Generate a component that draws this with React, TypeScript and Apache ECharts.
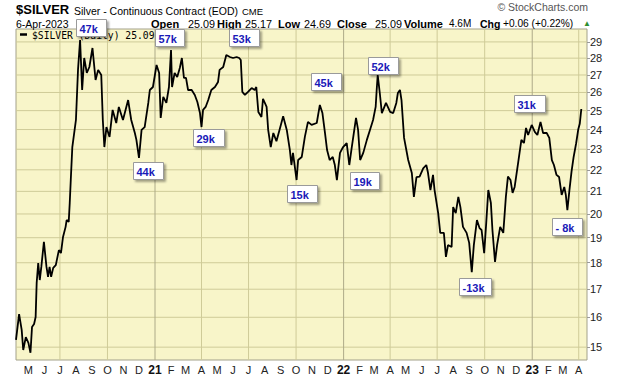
import React, { useEffect, useRef } from 'react';
import * as echarts from 'echarts';

const dates: string[] = [
  '2020-04-07','2020-04-13','2020-04-18','2020-04-21','2020-04-26','2020-05-01','2020-05-05','2020-05-08','2020-05-12','2020-05-15',
  '2020-05-17','2020-05-20','2020-05-23','2020-05-26','2020-05-31','2020-06-05','2020-06-08','2020-06-11','2020-06-14','2020-06-18',
  '2020-06-23','2020-06-29','2020-07-03','2020-07-07','2020-07-12','2020-07-14','2020-07-18','2020-07-20','2020-07-22','2020-07-25',
  '2020-08-01','2020-08-05','2020-08-09','2020-08-13','2020-08-17','2020-08-22','2020-08-27','2020-09-02','2020-09-08','2020-09-13',
  '2020-09-19','2020-09-22','2020-09-25','2020-09-29','2020-10-05','2020-10-11','2020-10-18','2020-10-23','2020-10-31','2020-11-10',
  '2020-11-16','2020-11-23','2020-11-26','2020-12-01','2020-12-06','2020-12-12','2020-12-19','2020-12-22','2020-12-28',
  '2021-01-04','2021-01-09','2021-01-12','2021-01-17','2021-01-23','2021-01-28','2021-02-01','2021-02-03','2021-02-08','2021-02-13',
  '2021-02-18','2021-02-22','2021-02-26','2021-03-02','2021-03-06','2021-03-13','2021-03-19','2021-03-24','2021-03-29','2021-04-01',
  '2021-04-04','2021-04-09','2021-04-14','2021-04-20','2021-04-27','2021-05-03','2021-05-06','2021-05-13','2021-05-19','2021-05-26',
  '2021-06-01','2021-06-08','2021-06-13','2021-06-16','2021-06-19','2021-06-24','2021-06-30','2021-07-07','2021-07-13','2021-07-16',
  '2021-07-20','2021-07-26','2021-07-29','2021-08-05','2021-08-08','2021-08-13','2021-08-18','2021-08-24','2021-08-31','2021-09-06',
  '2021-09-13','2021-09-19','2021-09-22','2021-09-25','2021-10-02','2021-10-05','2021-10-12','2021-10-18','2021-10-24','2021-10-31',
  '2021-11-10','2021-11-16','2021-11-21','2021-11-26','2021-11-30','2021-12-05','2021-12-11','2021-12-15','2021-12-19','2021-12-25',
  '2021-12-31',
  '2022-01-07','2022-01-12','2022-01-16','2022-01-25','2022-01-29','2022-02-02','2022-02-08','2022-02-15','2022-02-21','2022-02-27',
  '2022-03-04','2022-03-06','2022-03-08','2022-03-12','2022-03-16','2022-03-24','2022-04-01','2022-04-07','2022-04-13','2022-04-16',
  '2022-04-20','2022-04-23','2022-04-28','2022-05-06','2022-05-13','2022-05-17','2022-05-22','2022-05-28','2022-06-04','2022-06-10',
  '2022-06-13','2022-06-18','2022-06-23','2022-06-26','2022-07-03','2022-07-07','2022-07-14','2022-07-18','2022-07-22','2022-07-29',
  '2022-08-01','2022-08-06','2022-08-11','2022-08-15','2022-08-20','2022-08-27','2022-09-01','2022-09-06','2022-09-10','2022-09-16',
  '2022-09-21','2022-09-25','2022-09-30','2022-10-04','2022-10-08','2022-10-13','2022-10-16','2022-10-21','2022-10-25','2022-10-31',
  '2022-11-06','2022-11-11','2022-11-15','2022-11-20','2022-11-24','2022-11-28','2022-12-05','2022-12-11','2022-12-16','2022-12-20',
  '2022-12-24','2022-12-31',
  '2023-01-06','2023-01-11','2023-01-17','2023-01-22','2023-01-29','2023-02-03','2023-02-08','2023-02-12','2023-02-17','2023-02-22',
  '2023-02-27','2023-03-04','2023-03-07','2023-03-10','2023-03-14','2023-03-18','2023-03-22','2023-03-27','2023-03-31','2023-04-03',
  '2023-04-06'
];
const closes: number[] = [
  15.24,16.11,15.57,14.91,15.33,15.14,14.82,15.67,15.77,16.01,
  17.23,17.99,17.34,17.84,18.83,17.84,17.46,17.84,17.46,17.80,
  17.91,18.50,18.38,19.03,19.45,19.74,19.66,20.48,21.52,23.11,
  24.50,27.30,29.12,26.14,28.01,27.12,27.47,28.62,26.71,27.30,
  27.00,24.50,23.11,24.13,23.62,25.04,24.34,25.20,24.50,25.58,
  24.50,23.82,23.47,22.57,23.98,24.13,25.42,26.14,26.31,
  27.59,27.12,24.61,25.75,25.42,26.31,28.50,26.31,27.12,26.89,
  27.41,28.01,26.83,26.83,26.14,26.14,25.86,25.47,24.87,24.13,
  25.04,25.20,25.58,26.14,26.31,26.60,27.30,27.47,28.19,28.07,
  28.01,28.07,28.01,27.89,26.03,25.86,26.03,26.25,26.14,26.31,
  24.93,24.66,25.65,25.20,23.98,23.11,23.82,23.40,24.08,24.70,
  23.98,22.96,22.23,22.82,21.52,22.47,22.62,23.62,24.40,24.24,
  24.34,25.31,24.87,23.82,22.96,22.47,22.62,22.23,21.52,22.82,
  23.11,
  23.31,22.23,22.96,24.61,23.98,22.47,22.82,23.47,23.98,24.50,
  25.20,26.14,27.00,25.97,24.87,25.42,24.93,24.87,25.42,25.97,
  26.14,25.58,23.57,22.47,21.85,20.75,21.66,21.68,22.07,22.23,
  21.90,21.06,21.76,21.06,20.04,19.20,19.20,18.23,18.70,18.62,
  20.30,20.04,20.75,20.30,19.45,19.20,18.79,17.64,18.70,19.74,
  19.40,19.32,18.38,19.62,21.06,20.48,19.32,18.03,18.70,19.45,
  19.20,20.75,21.68,21.52,20.93,21.20,22.38,23.47,23.31,24.08,
  23.72,24.24,
  23.88,23.72,24.40,23.82,23.82,23.57,22.47,22.23,21.76,21.66,
  20.84,21.20,20.84,20.17,21.06,21.90,22.60,23.30,24.00,24.30,
  25.09
];

const priceTicks: number[] = [15,16,17,18,19,20,21,22,23,24,25,26,27,28,29];
const monthLetters: string[] = ['J','F','M','A','M','J','J','A','S','O','N','D'];
const quarterStarts: string[] = ['2020-07-01','2020-10-01','2021-01-01','2021-04-01','2021-07-01','2021-10-01','2022-01-01','2022-04-01','2022-07-01','2022-10-01','2023-01-01','2023-04-01'];
const volumeLabels: string[] = ['47k','57k','53k','29k','44k','45k','52k','15k','19k','31k','- 8k','-13k'];

const headerQuote: [string, string][] = [
  ['Open','25.09'],['High','25.17'],['Low','24.69'],['Close','25.09'],['Volume','4.6M'],['Chg','+0.06 (+0.22%)']
];

const toTs = (s: string) => {
  const [y, m, d] = s.split('-').map(Number);
  return new Date(y, m - 1, d).getTime();
};

const X_MIN = '2020-04-07';
const X_MAX = '2023-04-17';
const Y_MIN = 14.59;
const Y_MAX = 29.82;

export default function App() {
  const ref = useRef<HTMLDivElement>(null);
  useEffect(() => {
    document.body.style.margin = '0';
    const chart = echarts.init(ref.current!, null, { renderer: 'svg', width: 620, height: 376 });
    const seriesData = dates.map((d, i) => [toTs(d), closes[i]]);
    const xMin = toTs(X_MIN), xMax = toTs(X_MAX);
    const monthTicks: number[] = [];
    {
      let y = 2020, m = 4;
      while (y < 2023 || (y === 2023 && m <= 3)) {
        monthTicks.push(new Date(y, m, 1).getTime());
        m++;
        if (m > 11) { m = 0; y++; }
      }
    }
    const font = '"Liberation Sans", Arial, sans-serif';
    const txt = (text: string, x: number, y: number, size: number, opts: any = {}) => ({
      type: 'text', x, y, z: 50,
      style: {
        text, fill: opts.fill || '#000',
        font: `${opts.bold ? 'bold ' : ''}${size}px ${opts.family || font}`,
        align: opts.align || 'left', textAlign: opts.align || 'left',
        verticalAlign: 'middle', textVerticalAlign: 'middle'
      }
    });
    const quoteX = [[151,188],[217,245],[278,304],[337,375],[404,449],[480,503]];
    const header: any[] = [
      txt('$SILVER', 16, 9.5, 13, { bold: true }),
      txt('Silver - Continuous Contract (EOD)', 74, 10.5, 10.5),
      txt('CME', 242, 11, 9.5),
      txt('\u00A9 StockCharts.com', 588, 7, 10.5, { align: 'right', fill: '#555' }),
      txt('6-Apr-2023', 16, 23.5, 10.5),
      txt('\u25B2', 583, 23, 8, { fill: '#2f8f2f' })
    ];
    headerQuote.forEach(([k, v], i) => {
      header.push(txt(k, quoteX[i][0], 23.5, k === 'Chg' ? 10.5 : 11, { bold: true }));
      header.push(txt(v, quoteX[i][1], 23.5, k === 'Volume' ? 10 : (k === 'Chg' ? 10.2 : 10.8)));
    });
    header.push({ type: 'line', z: 40, shape: { x1: 20, y1: 34.5, x2: 27, y2: 34.5 }, style: { stroke: '#000', lineWidth: 2.5 } });
    header.push({ ...txt('$SILVER (Daily) ' + closes[closes.length - 1].toFixed(2), 32, 35, 9.7, { family: '"DejaVu Sans Mono", monospace' }), z: 40 });

    const boxPos = [[76,19,30],[155,29,29],[229,29,30],[193,129,31],[133,162,30],[311,73,30],[368,57,30],[287,185,30],[350,172,29],[514,95,31],[552,218,30],[459,278,32]];
    const boxes = volumeLabels.map((lab, i) => ({
      type: 'group', x: boxPos[i][0] + 0.5, y: boxPos[i][1] + 0.5, z: 60,
      children: [
        { type: 'rect', z: 60, shape: { x: 0, y: 0, width: boxPos[i][2], height: 17 },
          style: { fill: '#fff', stroke: '#9a9a9a', lineWidth: 1, shadowBlur: 2, shadowOffsetX: 2, shadowOffsetY: 2, shadowColor: 'rgba(0,0,0,0.35)' } },
        { type: 'text', z: 61, x: 3, y: 9,
          style: { text: lab, fill: '#1a1ab8', font: `bold 11px ${font}`, align: 'left', textAlign: 'left', verticalAlign: 'middle', textVerticalAlign: 'middle' } }
      ]
    }));
    // plot-area background, below everything
    const plotBg = { type: 'rect', z: -100, silent: true, shape: { x: 16, y: 29, width: 571, height: 331 }, style: { fill: '#F8F5C9' } };

    const gridColor = '#CFCB98';
    const yearColor = '#ADAA88';
    const hLines = priceTicks.map(v => ({
      type: 'line', data: [[xMin, v], [xMax, v]], z: 1, silent: true, showSymbol: false, symbol: 'none',
      lineStyle: { color: gridColor, width: 1 }
    }));
    const vLines = quarterStarts.map(s => {
      const t = toTs(s);
      const isYear = new Date(t).getMonth() === 0;
      return {
        type: 'line', data: [[t, Y_MIN], [t, Y_MAX]], z: 1, silent: true, showSymbol: false, symbol: 'none',
        lineStyle: { color: isYear ? yearColor : gridColor, width: 1 }
      };
    });

    chart.setOption({
      animation: false,
      grid: { left: 16, right: 33, top: 29, bottom: 16, show: true, backgroundColor: 'transparent', borderColor: '#A3A18A', borderWidth: 1 },
      xAxis: {
        type: 'value',
        min: xMin, max: xMax,
        axisLine: { show: false }, axisTick: { show: false }, splitLine: { show: false },
        axisLabel: {
          customValues: monthTicks,
          margin: 4, color: '#222', fontSize: 11, fontFamily: font,
          formatter: (v: number) => {
            const d = new Date(v);
            if (d.getMonth() === 0) return '{y|' + String(d.getFullYear()).slice(2) + '}';
            return monthLetters[d.getMonth()];
          },
          rich: { y: { fontWeight: 'bold', fontSize: 12, color: '#111', fontFamily: font } }
        }
      },
      yAxis: {
        type: 'log', position: 'right', min: Y_MIN, max: Y_MAX,
        axisLine: { show: false }, splitLine: { show: false },
        axisTick: { show: true, customValues: priceTicks, length: 3, lineStyle: { color: '#999' } },
        axisLabel: { customValues: priceTicks, margin: 3, color: '#222', fontSize: 11, fontFamily: font }
      },
      series: [
        ...hLines,
        ...vLines,
        {
          type: 'line', data: seriesData, z: 3, showSymbol: false, symbol: 'none',
          lineStyle: { color: '#000', width: 1.8 }, silent: true
        }
      ],
      graphic: [plotBg, ...header, ...boxes]
    });
    return () => chart.dispose();
  }, []);
  return <div ref={ref} style={{ position: 'absolute', left: 0, top: 0, width: 620, height: 376 }} />;
}
